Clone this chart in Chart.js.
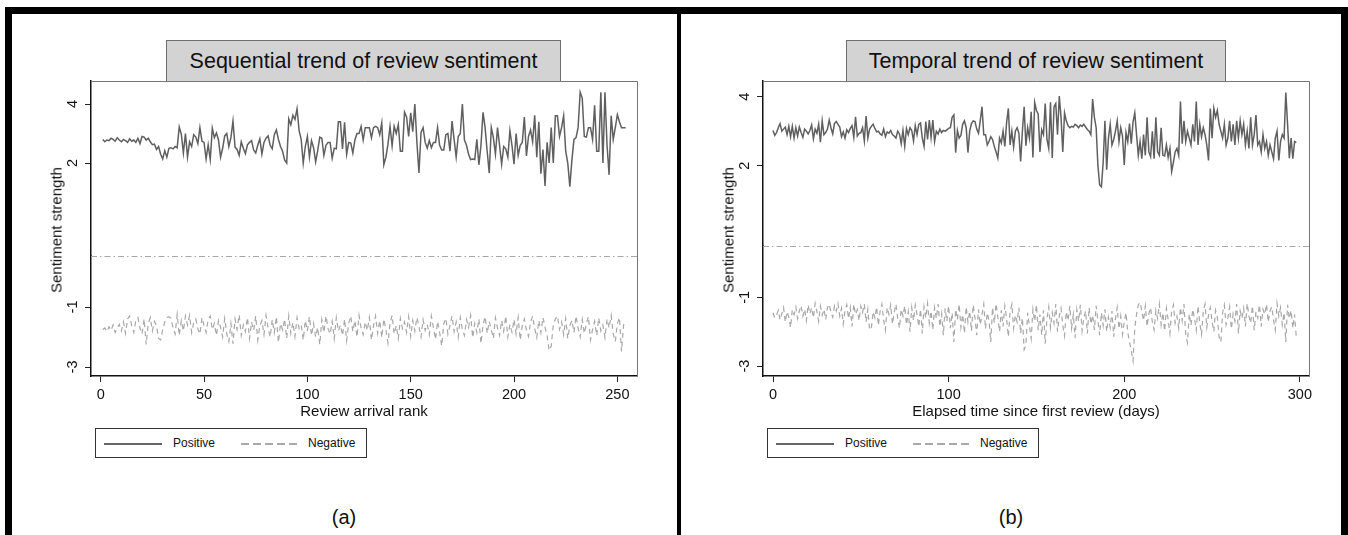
<!DOCTYPE html>
<html>
<head>
<meta charset="utf-8">
<script src="https://cdn.jsdelivr.net/npm/chart.js@4.4.1/dist/chart.umd.min.js"></script>
<style>
  body { margin: 0; background: #fff; font-family: "Liberation Sans", Arial, Helvetica, sans-serif; }
  #page { position: relative; width: 1348px; height: 535px; overflow: hidden; background: #fff; }
  .bar { position: absolute; background: #000; }
  canvas { position: absolute; }
  .title-box { position: absolute; top: 40px; height: 40px; background: #d3d3d3; border: 1px solid #6e6e6e; border-bottom: none;
               font-size: 21.5px; color: #111; text-align: center; line-height: 40px; white-space: nowrap; }
  .ytitle { position: absolute; top: 230px; font-size: 15px; color: #111; white-space: nowrap;
            transform: translate(-50%, -50%) rotate(-90deg); }
  .legend { position: absolute; top: 428px; width: 270px; height: 28px; border: 1px solid #333; font-size: 12px; color: #111; }
  .legend .solid { position: absolute; left: 8px; top: 14px; width: 58px; height: 1.5px; background: #666; }
  .legend .dash { position: absolute; left: 145px; top: 14px; width: 60px; height: 1.5px;
                  background: repeating-linear-gradient(to right, #aaa 0 8px, transparent 8px 12px); }
  .legend span { position: absolute; top: 7px; line-height: 15px; }
  .sub { position: absolute; top: 505px; font-size: 20px; line-height: 24px; color: #111; transform: translateX(-50%); }
</style>
</head>
<body>
<div id="page">
  <div class="bar" style="left:5px;top:7px;width:1343px;height:7px"></div>
  <div class="bar" style="left:5px;top:7px;width:7px;height:528px"></div>
  <div class="bar" style="left:677px;top:7px;width:4px;height:528px"></div>
  <div class="bar" style="left:1341px;top:7px;width:7px;height:528px"></div>

  <canvas id="chartA" width="665" height="410" style="left:12px;top:14px"></canvas>
  <canvas id="chartB" width="660" height="410" style="left:681px;top:14px"></canvas>

  <div class="title-box" style="left:166px;width:393px">Sequential trend of review sentiment</div>
  <div class="title-box" style="left:846px;width:378px">Temporal trend of review sentiment</div>

  <div class="ytitle" style="left:56px">Sentiment strength</div>
  <div class="ytitle" style="left:728px">Sentiment strength</div>

  <div class="legend" style="left:95px">
    <div class="solid"></div><span style="left:77px">Positive</span>
    <div class="dash"></div><span style="left:212px">Negative</span>
  </div>
  <div class="legend" style="left:767px">
    <div class="solid"></div><span style="left:77px">Positive</span>
    <div class="dash"></div><span style="left:212px">Negative</span>
  </div>

  <div class="sub" style="left:344px">(a)</div>
  <div class="sub" style="left:1011px">(b)</div>
</div>

<script>
// Tick labels
const rankTicks = [0, 50, 100, 150, 200, 250];
const dayTicks = [0, 100, 200, 300];
const posTicks = [4, 2];
const negTicks = [-1, -3];

// (a) sentiment by review arrival rank (rank 1..254)
const posA = [
  2.80, 2.72, 2.78, 2.76, 2.84, 2.80, 2.74, 2.86, 2.78, 2.72,
  2.80, 2.76, 2.70, 2.82, 2.74, 2.78, 2.70, 2.84, 2.66, 2.90,
  2.88, 2.78, 2.84, 2.72, 2.62, 2.64, 2.46, 2.56, 2.30, 2.14,
  2.42, 2.20, 2.50, 2.52, 2.48, 2.56, 2.52, 3.22, 2.98, 2.34,
  3.00, 2.20, 2.72, 2.56, 2.96, 2.88, 2.66, 3.20, 2.74, 2.70,
  2.14, 2.62, 2.12, 3.18, 2.86, 3.02, 2.78, 2.20, 2.50, 2.92,
  3.00, 2.56, 2.86, 3.42, 2.54, 2.46, 2.26, 2.72, 2.50, 2.32,
  2.62, 2.70, 2.76, 2.44, 2.34, 2.60, 2.82, 2.30, 2.70, 2.84,
  2.92, 2.60, 2.48, 2.96, 3.12, 2.80, 2.56, 2.40, 2.10, 2.00,
  3.50, 3.30, 3.62, 3.48, 3.84, 3.10, 2.80, 2.00, 2.56, 2.90,
  2.20, 2.76, 2.52, 2.04, 2.42, 2.88, 2.84, 2.26, 2.60, 2.70,
  2.70, 2.16, 2.50, 2.48, 3.40, 3.40, 2.48, 3.38, 2.30, 2.70,
  2.68, 2.34, 2.78, 3.00, 3.00, 3.24, 2.78, 3.20, 3.20, 3.20,
  2.86, 3.20, 3.24, 3.20, 2.96, 3.36, 1.94, 2.20, 2.64, 3.24,
  2.58, 3.24, 3.00, 3.30, 2.40, 2.40, 3.72, 3.56, 2.90, 3.70,
  3.06, 4.00, 2.70, 1.66, 3.04, 3.20, 2.70, 2.50, 2.76, 2.52,
  2.70, 2.70, 3.20, 2.60, 2.44, 2.44, 2.96, 3.00, 2.40, 3.42,
  2.80, 2.20, 2.90, 3.00, 4.00, 2.78, 2.60, 2.30, 2.12, 2.14,
  2.12, 2.80, 1.94, 2.60, 3.72, 3.20, 2.40, 1.66, 3.20, 2.86,
  2.30, 3.20, 2.60, 1.96, 2.56, 2.48, 2.20, 3.10, 2.60, 1.96,
  3.00, 2.26, 2.60, 2.70, 3.56, 2.24, 2.90, 3.12, 2.72, 3.62,
  2.20, 3.40, 1.64, 2.46, 1.22, 2.70, 2.00, 3.20, 2.00, 3.60,
  3.60, 2.90, 3.20, 3.60, 2.40, 2.00, 1.20, 2.10, 2.80, 2.86,
  3.20, 4.40, 4.20, 2.90, 2.88, 3.20, 3.20, 2.80, 3.96, 2.40,
  2.40, 4.40, 2.00, 4.40, 2.60, 1.60, 3.60, 2.80, 3.20, 3.64,
  3.40, 3.20, 3.20, 3.20
];
const negA = [
  -1.75, -1.70, -1.82, -1.66, -1.78, -1.60, -1.85, -1.72, -1.58, -1.80,
  -1.50, -1.88, -1.40, -1.30, -1.62, -1.85, -1.45, -1.35, -1.70, -1.90,
  -1.40, -2.25, -1.55, -1.35, -1.80, -1.48, -1.62, -2.05, -2.10, -1.75,
  -1.50, -1.35, -1.32, -1.38, -1.70, -1.90, -1.25, -1.95, -1.45, -1.80,
  -1.30, -1.60, -1.28, -1.85, -1.52, -1.40, -1.72, -1.90, -1.35, -1.62,
  -1.85, -1.42, -1.30, -1.75, -1.55, -1.95, -1.45, -1.68, -2.00, -1.38,
  -1.90, -2.15, -1.55, -2.22, -1.40, -1.75, -1.26, -1.95, -1.60, -1.82,
  -1.35, -2.05, -1.50, -1.78, -1.30, -2.10, -1.62, -1.45, -1.92, -1.28,
  -1.70, -2.00, -1.42, -1.85, -1.32, -2.18, -1.55, -1.76, -1.40, -2.05,
  -1.30, -1.88, -1.52, -1.98, -1.36, -1.72, -1.60, -2.10, -1.45, -1.80,
  -1.32, -1.95, -1.55, -2.00, -1.68, -2.25, -1.42, -1.85, -1.30, -1.72,
  -1.90, -1.48, -2.05, -1.35, -1.80, -1.60, -1.95, -1.40, -2.12, -1.55,
  -1.30, -1.82, -1.45, -2.00, -1.28, -1.70, -1.92, -1.50, -1.78, -1.35,
  -2.10, -1.62, -1.30, -1.88, -1.45, -2.02, -1.40, -1.75, -2.20, -1.55,
  -1.28, -1.90, -1.62, -2.05, -1.38, -1.72, -1.50, -1.85, -1.32, -1.98,
  -1.45, -1.80, -1.35, -1.65, -2.00, -1.42, -1.78, -1.58, -1.92, -1.30,
  -1.70, -2.08, -1.48, -1.85, -2.30, -1.55, -1.38, -1.90, -1.62, -1.30,
  -1.82, -1.50, -2.00, -1.35, -1.75, -1.95, -1.42, -1.68, -1.28, -2.02,
  -1.55, -1.85, -1.40, -2.22, -1.60, -1.32, -1.88, -1.48, -1.76, -2.05,
  -1.36, -1.70, -1.95, -1.45, -1.80, -1.30, -2.00, -1.58, -1.84, -1.42,
  -1.90, -1.35, -2.10, -1.62, -1.40, -1.78, -1.98, -1.50, -1.30, -1.72,
  -2.02, -1.45, -1.85, -1.35, -1.68, -1.95, -2.45, -2.30, -1.60, -1.40,
  -1.30, -1.75, -1.50, -1.92, -1.38, -2.05, -1.62, -1.45, -1.85, -1.30,
  -1.70, -2.00, -1.42, -1.88, -1.55, -1.32, -2.10, -1.75, -1.48, -1.95,
  -1.36, -1.80, -1.60, -2.02, -1.40, -1.70, -1.28, -1.90, -2.15, -1.55,
  -1.35, -2.48, -1.60, -1.45
];

// (b) sentiment by days since first review (day 0..298)
const posB = [
  3.02, 2.88, 2.96, 3.10, 3.22, 3.00, 3.06, 3.12, 2.90, 3.14,
  2.84, 3.14, 2.80, 3.10, 2.86, 3.12, 2.96, 2.82, 3.06, 3.00,
  2.92, 3.02, 3.18, 2.78, 3.06, 2.94, 3.20, 2.68, 3.30, 2.90,
  2.96, 3.06, 3.32, 3.10, 2.92, 3.22, 3.28, 3.20, 3.12, 2.84,
  2.98, 2.80, 3.04, 2.96, 3.08, 3.16, 2.82, 3.42, 2.86, 2.94,
  2.96, 3.10, 2.72, 3.44, 2.80, 3.06, 3.14, 3.20, 3.08, 2.98,
  3.00, 2.92, 2.88, 3.06, 2.84, 2.98, 2.94, 3.02, 2.90, 2.86,
  2.80, 3.00, 2.92, 2.64, 3.02, 2.56, 3.08, 2.90, 3.10, 3.02,
  2.72, 3.16, 2.90, 3.20, 3.24, 2.80, 2.56, 3.28, 2.76, 3.32,
  2.82, 3.32, 2.70, 3.00, 2.92, 3.06, 2.96, 3.02, 3.00, 3.04,
  3.08, 3.10, 3.40, 3.47, 2.38, 3.02, 2.80, 2.88, 3.20, 3.30,
  3.10, 2.38, 3.00, 3.22, 3.30, 3.28, 3.06, 2.94, 3.30, 3.71,
  2.90, 2.90, 2.60, 2.70, 2.84, 2.76, 2.56, 2.40, 2.22, 2.80,
  2.66, 3.00, 2.56, 3.24, 3.66, 2.60, 3.00, 2.54, 3.00, 3.10,
  2.94, 2.12, 3.00, 3.71, 2.58, 3.10, 2.80, 3.56, 2.24, 3.83,
  3.60, 3.50, 2.40, 3.04, 2.90, 3.80, 2.76, 2.50, 3.84, 2.22,
  3.70, 3.80, 2.90, 4.02, 3.40, 2.40, 3.53, 3.30, 3.16, 3.10,
  3.14, 3.12, 3.20, 3.16, 3.10, 3.18, 3.14, 3.20, 3.12, 3.05,
  3.00, 2.90, 3.93, 3.40, 3.10, 2.00, 1.44, 1.39, 2.10, 3.30,
  1.88, 2.80, 3.20, 2.60, 2.76, 3.00, 3.30, 2.70, 3.10, 2.86,
  2.02, 2.96, 2.70, 3.22, 2.64, 3.26, 3.53, 2.90, 2.30, 2.70,
  2.20, 2.90, 2.30, 3.40, 2.40, 2.26, 3.00, 2.20, 3.40, 2.40,
  2.30, 3.10, 2.30, 2.28, 2.60, 2.24, 2.50, 1.83, 2.10, 2.40,
  2.50, 2.30, 3.86, 2.64, 3.30, 2.70, 3.00, 2.80, 2.60, 3.20,
  2.70, 3.86, 2.60, 3.20, 2.84, 3.10, 2.90, 2.60, 2.15, 3.66,
  2.80, 3.66, 3.40, 3.60, 3.20, 3.00, 2.80, 3.20, 2.60, 2.80,
  3.30, 2.70, 3.20, 2.60, 3.30, 2.80, 3.30, 2.90, 3.20, 2.60,
  3.00, 2.50, 3.40, 2.60, 2.90, 3.47, 2.60, 2.70, 2.40, 2.90,
  2.50, 2.70, 2.30, 2.60, 2.40, 2.20, 2.80, 3.00, 2.15, 2.70,
  2.90, 2.80, 4.12, 3.20, 2.22, 2.80, 2.20, 2.70, 2.67
];
const negB = [
  -1.45, -1.60, -1.52, -1.38, -1.66, -1.48, -1.30, -1.72, -1.42, -1.58,
  -1.88, -1.36, -1.50, -1.28, -1.62, -1.40, -1.24, -1.55, -1.35, -1.68,
  -1.22, -1.48, -1.30, -1.60, -1.18, -1.42, -1.70, -1.26, -1.52, -1.35,
  -1.65, -1.30, -1.20, -1.45, -1.58, -1.25, -1.40, -1.18, -1.55, -1.32,
  -1.78, -1.40, -1.22, -1.62, -1.30, -1.85, -1.20, -1.50, -1.36, -1.68,
  -1.26, -1.45, -1.20, -1.72, -1.35, -1.95, -1.90, -1.42, -1.60, -1.28,
  -1.82, -1.40, -1.20, -1.66, -1.95, -1.30, -1.50, -1.22, -1.78, -1.45,
  -1.20, -1.62, -1.90, -1.35, -1.55, -1.25, -1.80, -1.42, -2.00, -1.30,
  -1.68, -1.22, -1.50, -1.85, -1.35, -2.05, -1.28, -1.60, -1.18, -1.75,
  -1.40, -1.95, -1.30, -1.62, -1.20, -1.85, -1.48, -2.10, -1.32, -1.70,
  -1.25, -1.90, -1.45, -2.30, -1.35, -1.65, -1.20, -1.88, -1.50, -2.05,
  -1.28, -1.72, -1.40, -1.98, -1.22, -1.60, -2.10, -1.35, -1.80, -1.50,
  -1.20, -1.92, -1.45, -1.68, -2.30, -1.30, -1.75, -1.18, -1.58, -2.00,
  -1.38, -1.85, -1.25, -1.62, -2.15, -1.40, -1.20, -1.90, -1.52, -1.72,
  -1.30, -2.05, -1.60, -2.52, -2.40, -1.45, -1.85, -2.20, -1.35, -1.70,
  -1.22, -1.96, -1.50, -2.10, -1.38, -2.35, -1.62, -1.28, -1.88, -1.45,
  -1.75, -1.20, -2.00, -1.55, -1.32, -1.82, -2.12, -1.42, -1.68, -1.25,
  -1.90, -1.50, -2.18, -1.36, -1.70, -1.22, -1.98, -1.60, -1.40, -2.05,
  -1.30, -1.78, -1.52, -1.95, -1.25, -1.68, -2.10, -1.45, -1.82, -1.35,
  -2.00, -1.58, -1.88, -1.40, -2.15, -1.62, -1.30, -1.92, -1.55, -2.08,
  -1.72, -1.45, -2.02, -2.30, -2.55, -2.85, -1.90, -1.50, -1.22, -1.15,
  -1.40, -1.68, -1.25, -1.85, -1.48, -1.30, -1.72, -1.95, -1.38, -1.62,
  -1.20, -1.80, -1.45, -1.98, -1.32, -1.65, -2.05, -1.40, -1.22, -1.75,
  -1.55, -1.90, -1.30, -1.68, -1.20, -2.10, -2.32, -1.48, -1.82, -1.35,
  -1.62, -1.96, -1.25, -1.75, -2.08, -1.42, -1.20, -1.88, -1.52, -1.30,
  -1.70, -2.00, -1.38, -1.58, -2.15, -2.30, -1.45, -1.22, -1.80, -1.60,
  -1.28, -1.92, -1.48, -1.70, -1.20, -2.05, -1.40, -1.62, -1.32, -1.85,
  -1.18, -1.55, -1.75, -1.25, -1.96, -1.42, -1.60, -1.22, -1.85, -1.35,
  -1.50, -1.20, -1.72, -1.40, -1.28, -1.65, -1.95, -1.18, -1.55, -1.30,
  -1.80, -1.45, -2.30, -1.22, -1.62, -1.38, -1.90, -1.50, -2.20
];

Chart.defaults.font.family = '"Liberation Sans", Arial, Helvetica, sans-serif';
Chart.defaults.color = '#111';

// Plot frame (top/right edges) and the dash-dot divider between the two panes
const framePlugin = {
    id: 'frame',
    beforeDatasetsDraw(chart) {
        const { ctx, chartArea } = chart;
        const y = Math.round(chart.scales.yPos.bottom) + 0.5;
        ctx.save();
        ctx.strokeStyle = '#a8a8a8';
        ctx.lineWidth = 1;
        ctx.setLineDash([6, 3, 1.5, 3]);
        ctx.beginPath();
        ctx.moveTo(chartArea.left, y);
        ctx.lineTo(chartArea.right, y);
        ctx.stroke();
        ctx.restore();
    },
    afterDraw(chart) {
        const { ctx, chartArea } = chart;
        ctx.save();
        ctx.strokeStyle = '#777';
        ctx.lineWidth = 1;
        ctx.beginPath();
        ctx.moveTo(chartArea.left, chartArea.top + 0.5);
        ctx.lineTo(chartArea.right + 0.5, chartArea.top + 0.5);
        ctx.lineTo(chartArea.right + 0.5, chartArea.bottom);
        ctx.stroke();
        ctx.restore();
    }
};

function axisStyle() {
    return {
        grid: { display: true, drawOnChartArea: false, drawTicks: true, tickLength: 6, color: '#222' },
        border: { display: true, color: '#111', width: 1.5 }
    };
}

function yAxis(range, ticks, weight, pad, width) {
    return {
        type: 'linear',
        position: 'left',
        stack: 'y',
        stackWeight: weight,
        min: range[0],
        max: range[1],
        afterFit: s => { s.width = width; },
        afterBuildTicks: s => { s.ticks = ticks.map(v => ({ value: v })); },
        ...axisStyle(),
        ticks: { font: { size: 14.5 }, color: '#111', padding: pad, crossAlign: 'center', minRotation: 90, maxRotation: 90 }
    };
}

function makeChart(id, cfg) {
    new Chart(document.getElementById(id), {
        type: 'line',
        data: {
            datasets: [
                {
                    label: 'Positive',
                    data: cfg.pos.map((v, i) => ({ x: i + cfg.x0, y: v })),
                    yAxisID: 'yPos',
                    borderColor: '#5f5f5f',
                    borderWidth: 1.5,
                    pointRadius: 0,
                    tension: 0
                },
                {
                    label: 'Negative',
                    data: cfg.neg.map((v, i) => ({ x: i + cfg.x0, y: v })),
                    yAxisID: 'yNeg',
                    borderColor: '#a8a8a8',
                    borderWidth: 1.2,
                    borderDash: [5, 4],
                    pointRadius: 0,
                    tension: 0
                }
            ]
        },
        options: {
            responsive: false,
            animation: false,
            events: [],
            devicePixelRatio: 1,
            layout: { padding: { left: 0, top: 67, right: cfg.right, bottom: 3 } },
            plugins: { legend: { display: false }, tooltip: { enabled: false } },
            scales: {
                x: {
                    type: 'linear',
                    min: cfg.xRange[0],
                    max: cfg.xRange[1],
                    afterFit: s => { s.height = 45; },
                    afterBuildTicks: s => { s.ticks = cfg.xTicks.map(v => ({ value: v })); },
                    ...axisStyle(),
                    ticks: { font: { size: 14.5 }, color: '#111', padding: 4, maxRotation: 0 },
                    title: { display: true, text: cfg.xTitle, font: { size: 15 }, color: '#111', padding: 0 }
                },
                // stacked boxes are placed bottom-up, so the lower pane is listed first
                yNeg: yAxis(cfg.negRange, negTicks, cfg.weights[1], 6, cfg.yWidth),
                yPos: yAxis(cfg.posRange, posTicks, cfg.weights[0], 8, cfg.yWidth)
            }
        },
        plugins: [framePlugin]
    });
}

makeChart('chartA', {
    pos: posA, neg: negA, x0: 1,
    xRange: [-4.7, 259.5], xTicks: rankTicks, xTitle: 'Review arrival rank',
    posRange: [-1.15, 4.78], negRange: [-3.3, 0.7], weights: [175, 120],
    yWidth: 79, right: 40
});

makeChart('chartB', {
    pos: posB, neg: negB, x0: 0,
    xRange: [-5.7, 305.2], xTicks: dayTicks, xTitle: 'Elapsed time since first review (days)',
    posRange: [-0.32, 4.455], negRange: [-3.29, 0.5], weights: [164.7, 130.3],
    yWidth: 82, right: 32
});
</script>
</body>
</html>
